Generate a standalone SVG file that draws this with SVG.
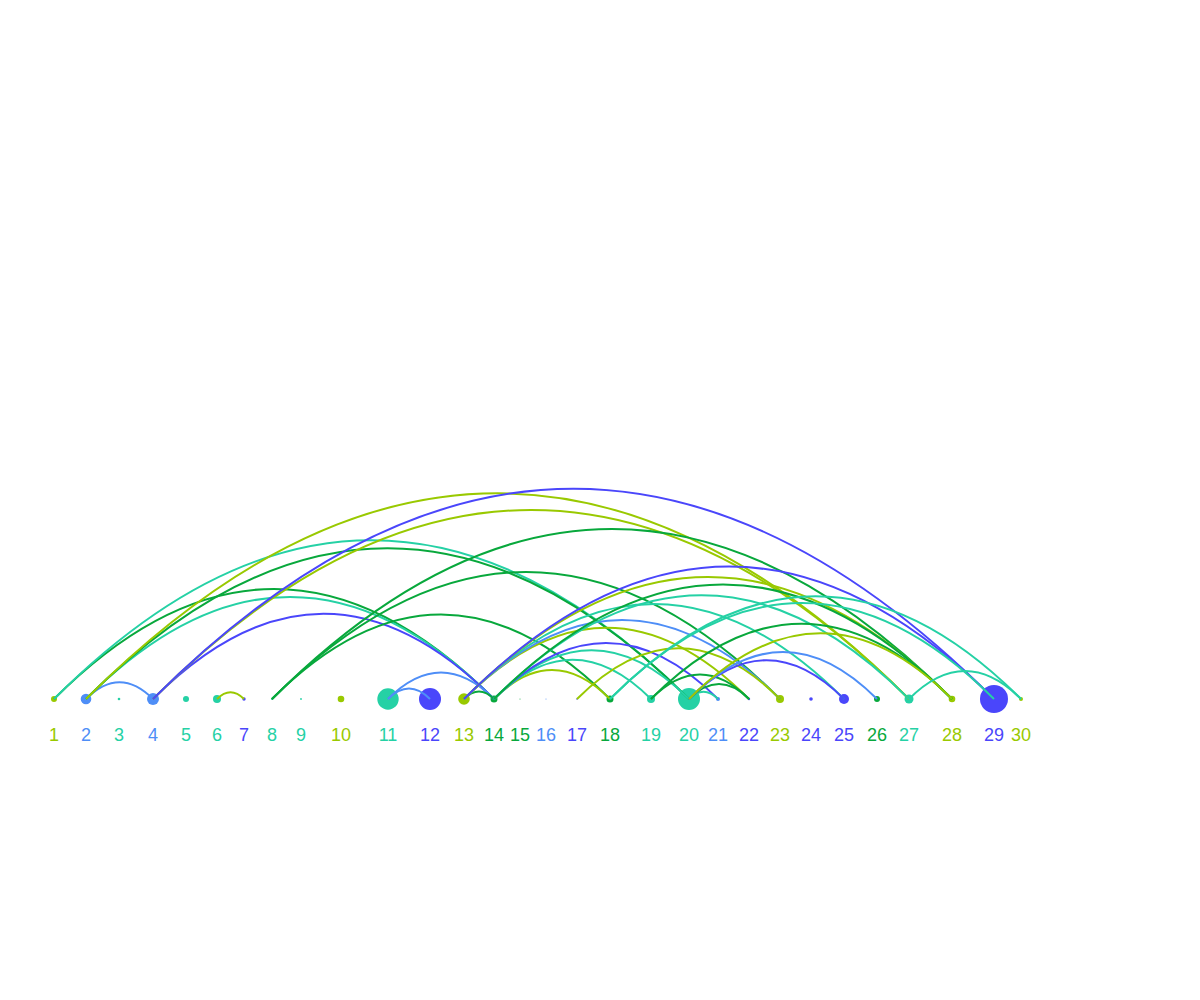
<svg xmlns="http://www.w3.org/2000/svg" width="1200" height="1000" viewBox="0 0 1200 1000">
<style>
text{font-family:"Liberation Sans",Arial,sans-serif;font-size:18px;text-anchor:middle}
.e{fill:none;stroke-width:2}
.L{fill:#99c900}.B{fill:#4e8ef7}.T{fill:#25d1a5}.I{fill:#4a46fb}.G{fill:#08a83c}
.sL{stroke:#99c900}.sB{stroke:#4e8ef7}.sT{stroke:#25d1a5}.sI{stroke:#4a46fb}.sG{stroke:#08a83c}
</style>
<rect width="1200" height="1000" fill="#fff"/>
<g id="n1" class="L"><circle cx="54" cy="699" r="3"/><text x="54" y="741">1</text></g>
<g id="n2" class="B"><circle cx="86" cy="699" r="5.3"/><text x="86" y="741">2</text></g>
<g id="n3" class="T"><circle cx="119" cy="699" r="1.3"/><text x="119" y="741">3</text></g>
<g id="n4" class="B"><circle cx="153" cy="699" r="6"/><text x="153" y="741">4</text></g>
<g id="n5" class="T"><circle cx="186" cy="699" r="3"/><text x="186" y="741">5</text></g>
<g id="n6" class="T"><circle cx="217" cy="699" r="4"/><text x="217" y="741">6</text></g>
<g id="n7" class="I"><circle cx="244" cy="699" r="1.7"/><text x="244" y="741">7</text></g>
<g id="n8" class="T"><circle cx="272" cy="699" r="1"/><text x="272" y="741">8</text></g>
<g id="n9" class="T"><circle cx="301" cy="699" r="0.9"/><text x="301" y="741">9</text></g>
<g id="n10" class="L"><circle cx="341" cy="699" r="3.3"/><text x="341" y="741">10</text></g>
<g id="n11" class="T"><circle cx="388" cy="699" r="10.7"/><text x="388" y="741">11</text></g>
<g id="n12" class="I"><circle cx="430" cy="699" r="11"/><text x="430" y="741">12</text></g>
<g id="n13" class="L"><circle cx="464" cy="699" r="5.8"/><text x="464" y="741">13</text></g>
<g id="n14" class="G"><circle cx="494" cy="699" r="3.5"/><text x="494" y="741">14</text></g>
<g id="n15" class="G"><circle cx="520" cy="699" r="0.5"/><text x="520" y="741">15</text></g>
<g id="n16" class="B"><circle cx="546" cy="699" r="0.5"/><text x="546" y="741">16</text></g>
<g id="n17" class="I"><circle cx="577" cy="699" r="0.8"/><text x="577" y="741">17</text></g>
<g id="n18" class="G"><circle cx="610" cy="699" r="3.5"/><text x="610" y="741">18</text></g>
<g id="n19" class="T"><circle cx="651" cy="699" r="4"/><text x="651" y="741">19</text></g>
<g id="n20" class="T"><circle cx="689" cy="699" r="11"/><text x="689" y="741">20</text></g>
<g id="n21" class="B"><circle cx="718" cy="699" r="2"/><text x="718" y="741">21</text></g>
<g id="n22" class="I"><circle cx="749" cy="699" r="1.2"/><text x="749" y="741">22</text></g>
<g id="n23" class="L"><circle cx="780" cy="699" r="4"/><text x="780" y="741">23</text></g>
<g id="n24" class="I"><circle cx="811" cy="699" r="1.8"/><text x="811" y="741">24</text></g>
<g id="n25" class="I"><circle cx="844" cy="699" r="5"/><text x="844" y="741">25</text></g>
<g id="n26" class="G"><circle cx="877" cy="699" r="3"/><text x="877" y="741">26</text></g>
<g id="n27" class="T"><circle cx="909" cy="699" r="4.5"/><text x="909" y="741">27</text></g>
<g id="n28" class="L"><circle cx="952" cy="699" r="3.3"/><text x="952" y="741">28</text></g>
<g id="n29" class="I"><circle cx="994" cy="699" r="14"/><text x="994" y="741">29</text></g>
<g id="n30" class="L"><circle cx="1021" cy="699" r="2"/><text x="1021" y="741">30</text></g>
<g id="edges">
<path class="e sG" d="M54 699Q274 479 494 699"/>
<path class="e sT" d="M54 699Q371.5 381.5 689 699"/>
<path class="e sB" d="M86 699Q119.5 665.5 153 699"/>
<path class="e sT" d="M86 699Q290 495 494 699"/>
<path class="e sG" d="M86 699Q387.5 397.5 689 699"/>
<path class="e sL" d="M86 699Q497.5 287.5 909 699"/>
<path class="e sI" d="M153 699Q323.5 528.5 494 699"/>
<path class="e sL" d="M153 699Q531 321 909 699"/>
<path class="e sI" d="M153 699Q573.5 278.5 994 699"/>
<path class="e sL" d="M217 699Q230.5 685.5 244 699"/>
<path class="e sG" d="M272 699Q441 530 610 699"/>
<path class="e sG" d="M272 699Q526 445 780 699"/>
<path class="e sG" d="M272 699Q612 359 952 699"/>
<path class="e sB" d="M388 699Q409 678 430 699"/>
<path class="e sB" d="M388 699Q441 646 494 699"/>
<path class="e sG" d="M464 699Q479 684 494 699"/>
<path class="e sL" d="M464 699Q606.5 556.5 749 699"/>
<path class="e sB" d="M464 699Q622 541 780 699"/>
<path class="e sT" d="M464 699Q654 509 844 699"/>
<path class="e sL" d="M464 699Q708 455 952 699"/>
<path class="e sI" d="M464 699Q729 434 994 699"/>
<path class="e sL" d="M494 699Q552 641 610 699"/>
<path class="e sT" d="M494 699Q572.5 620.5 651 699"/>
<path class="e sT" d="M494 699Q591.5 601.5 689 699"/>
<path class="e sI" d="M494 699Q606 587 718 699"/>
<path class="e sT" d="M494 699Q701.5 491.5 909 699"/>
<path class="e sG" d="M494 699Q723 470 952 699"/>
<path class="e sL" d="M577 699Q678.5 597.5 780 699"/>
<path class="e sT" d="M610 699Q802 507 994 699"/>
<path class="e sT" d="M610 699Q815.5 493.5 1021 699"/>
<path class="e sG" d="M651 699Q700 650 749 699"/>
<path class="e sG" d="M651 699Q801.5 548.5 952 699"/>
<path class="e sT" d="M689 699Q703.5 684.5 718 699"/>
<path class="e sG" d="M689 699Q719 669 749 699"/>
<path class="e sI" d="M689 699Q766.5 621.5 844 699"/>
<path class="e sB" d="M689 699Q783 605 877 699"/>
<path class="e sL" d="M689 699Q820.5 567.5 952 699"/>
<path class="e sT" d="M909 699Q965 643 1021 699"/>
</g>
</svg>
